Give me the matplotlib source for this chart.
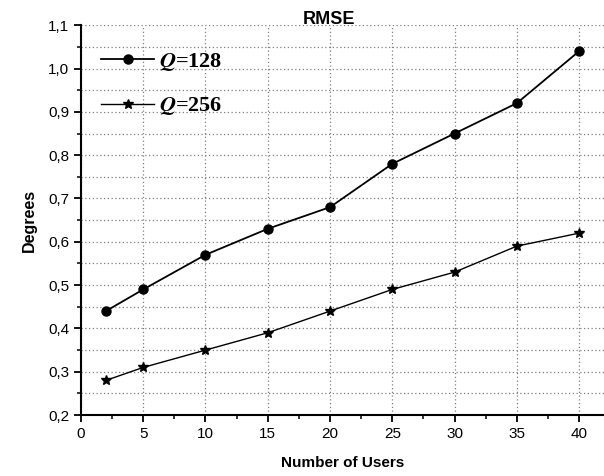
import matplotlib
matplotlib.use("Agg")
import matplotlib.pyplot as plt
from matplotlib.ticker import MultipleLocator, FuncFormatter

# data
users = [2, 5, 10, 15, 20, 25, 30, 35, 40]
rmse_q128 = [0.44, 0.49, 0.57, 0.63, 0.68, 0.78, 0.85, 0.92, 1.04]
rmse_q256 = [0.28, 0.31, 0.35, 0.39, 0.44, 0.49, 0.53, 0.59, 0.62]

plt.rcParams["font.family"] = ["Liberation Sans", "DejaVu Sans"]
plt.rcParams["mathtext.fontset"] = "stix"

fig = plt.figure(figsize=(6.04, 4.76), dpi=100)
ax = fig.add_axes([0.134, 0.128, 0.866, 0.819])

ax.plot(users, rmse_q128, color="black", lw=1.3, marker="o", ms=6.5, label="$\\boldsymbol{Q}$=128")
ax.plot(users, rmse_q256, color="black", lw=1.0, marker="*", ms=7.5, label="$\\boldsymbol{Q}$=256")

ax.set_xlim(0, 42)
ax.set_ylim(0.2, 1.1)
ax.xaxis.set_major_locator(MultipleLocator(5))
ax.xaxis.set_minor_locator(MultipleLocator(2.5))
ax.yaxis.set_major_locator(MultipleLocator(0.1))
ax.yaxis.set_minor_locator(MultipleLocator(0.05))
ax.yaxis.set_major_formatter(FuncFormatter(lambda v, p: f"{v:.1f}".replace(".", ",")))

ax.grid(which="major", axis="x", color="gray", ls=(0, (1, 2)), lw=0.9)
ax.grid(which="both", axis="y", color="gray", ls=(0, (1, 2)), lw=0.9)

for s in ["top", "right"]:
    ax.spines[s].set_visible(False)
for s in ["left", "bottom"]:
    ax.spines[s].set_linewidth(1.5)
ax.tick_params(which="major", direction="out", length=5, width=1.3, labelsize=11)
ax.tick_params(which="minor", direction="out", length=3, width=1.1)

ax.set_xlabel("Number of Users", fontsize=11, fontweight="bold", labelpad=11)
ax.set_ylabel("Degrees", fontsize=11.5, fontweight="bold", labelpad=8)
fig.text(0.545, 0.958, "RMSE", fontsize=13, fontweight="bold", ha="center", va="center")

leg = ax.legend(loc="upper left", frameon=False, handlelength=2.4, handletextpad=0.2,
                labelspacing=1.0, bbox_to_anchor=(0.0, 0.985),
                prop={"family": "Liberation Serif", "weight": "bold", "size": 16})

fig.savefig("out.png", dpi=100)
